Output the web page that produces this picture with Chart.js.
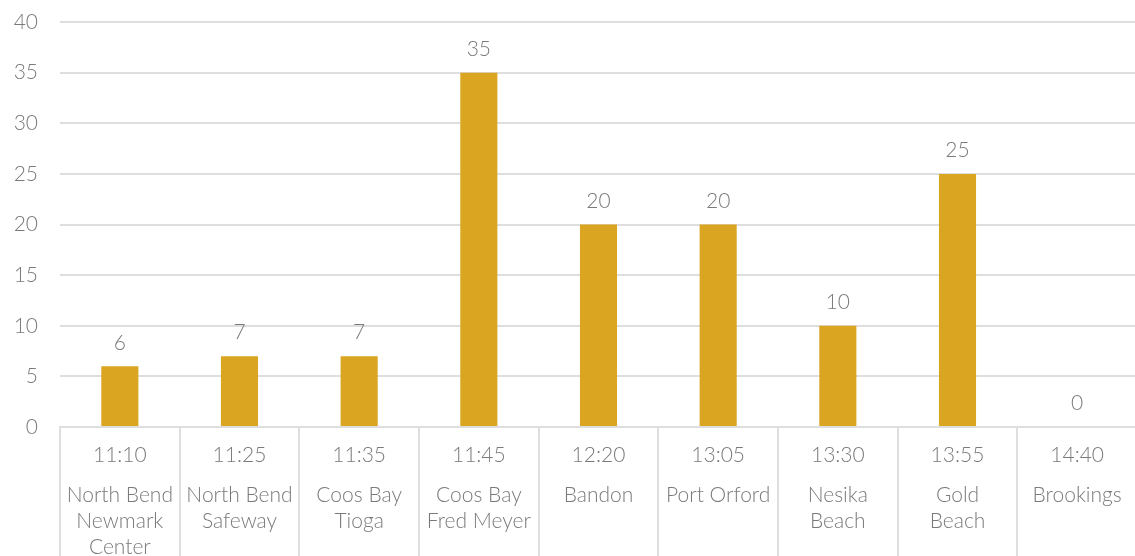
<!DOCTYPE html>
<html lang="en">

<head>
    <meta charset="UTF-8">
    <title>Stops</title>
    <script src="https://cdn.jsdelivr.net/npm/chart.js"></script>
    <style>
        html, body { margin: 0; padding: 0; background: #fff; overflow: hidden; }
        #wrap { width: 1137px; height: 556px; }
    </style>
</head>

<body>
    <div id="wrap"><canvas id="stopsChart"></canvas></div>

    <script>
        const times = ['11:10', '11:25', '11:35', '11:45', '12:20', '13:05', '13:30', '13:55', '14:40'];
        const places = [
            ['North Bend', 'Newmark', 'Center'],
            ['North Bend', 'Safeway'],
            ['Coos Bay', 'Tioga'],
            ['Coos Bay', 'Fred Meyer'],
            ['Bandon'],
            ['Port Orford'],
            ['Nesika', 'Beach'],
            ['Gold', 'Beach'],
            ['Brookings']
        ];
        const counts = [6, 7, 7, 35, 20, 20, 10, 25, 0];

        const textColor = '#7a7a7a';
        const lineColor = '#dedede';
        const fontFamily = 'Lato, "Open Sans", sans-serif';
        const tickFont = { family: fontFamily, size: 21, weight: 300 };

        // value labels above each bar
        const valueLabels = {
            id: 'valueLabels',
            afterDatasetsDraw(chart) {
                const ctx = chart.ctx;
                const meta = chart.getDatasetMeta(0);
                ctx.save();
                ctx.fillStyle = textColor;
                ctx.font = '300 21px ' + fontFamily;
                ctx.textAlign = 'center';
                ctx.textBaseline = 'bottom';
                meta.data.forEach((bar, i) => {
                    ctx.fillText(String(counts[i]), bar.x, bar.y - 13);
                });
                ctx.restore();
            }
        };

        const ctx = document.getElementById('stopsChart').getContext('2d');
        new Chart(ctx, {
            type: 'bar',
            data: {
                labels: times,
                datasets: [{
                    data: counts,
                    backgroundColor: '#DAA520',
                    barPercentage: 0.31,
                    categoryPercentage: 1
                }]
            },
            options: {
                responsive: true,
                maintainAspectRatio: false,
                animation: false,
                layout: { padding: { top: 22, right: 0, left: 0, bottom: 0 } },
                plugins: {
                    legend: { display: false },
                    tooltip: { enabled: false }
                },
                scales: {
                    x: {
                        weight: 0,
                        grid: {
                            drawOnChartArea: false,
                            color: lineColor,
                            lineWidth: 2,
                            tickLength: 130
                        },
                        border: { color: lineColor, width: 2 },
                        ticks: {
                            color: textColor,
                            padding: -115,
                            maxRotation: 0,
                            autoSkip: false,
                            font: { ...tickFont, lineHeight: 1.3 }
                        },
                        afterFit: s => { s.height = 41; }
                    },
                    x2: {
                        type: 'category',
                        position: 'bottom',
                        weight: 1,
                        labels: places,
                        grid: { display: false, drawTicks: false },
                        border: { display: false },
                        ticks: {
                            color: textColor,
                            padding: 14,
                            maxRotation: 0,
                            autoSkip: false,
                            font: { ...tickFont, lineHeight: 1.24 }
                        },
                        afterFit: s => { s.height = 88; s.paddingLeft = 0; s.paddingRight = 0; }
                    },
                    y: {
                        min: 0,
                        max: 40,
                        ticks: {
                            stepSize: 5,
                            color: textColor,
                            padding: 22,
                            font: tickFont
                        },
                        grid: { color: lineColor, lineWidth: 2, drawTicks: false },
                        border: { display: false },
                        afterFit: s => { s.width = 60; s.paddingTop = 0; s.paddingBottom = 0; }
                    }
                }
            },
            plugins: [valueLabels]
        });
    </script>
</body>

</html>
